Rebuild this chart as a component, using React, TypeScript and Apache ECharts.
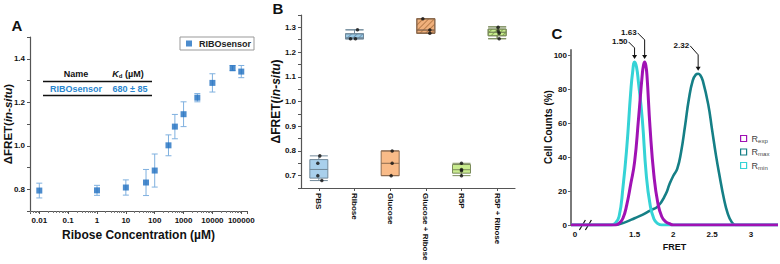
import { useEffect, useRef } from 'react';
import * as echarts from 'echarts';

const FONT = '"Liberation Sans", Arial, Helvetica, sans-serif';

// ---------- Panel A : dose response ----------
const riboseConc = [0.01, 1, 10, 50, 100, 300, 500, 1000, 3000, 10000, 50000, 100000];
const deltaFretMean = [0.794, 0.795, 0.808, 0.831, 0.886, 1.002, 1.088, 1.145, 1.221, 1.289, 1.357, 1.341];
const deltaFretErr = [0.034, 0.023, 0.035, 0.06, 0.076, 0.048, 0.056, 0.057, 0.019, 0.042, 0.012, 0.028];
const tableName = 'RIBOsensor';
const tableKd = '680 ± 85';

// ---------- Panel B : box plots ----------
const conditions = ['PBS', 'Ribose', 'Glucose', 'Glucose + Ribose', 'R5P', 'R5P + Ribose'];
// [min, Q1, median, Q3, max]
const boxStats = [
  [0.68, 0.69, 0.725, 0.765, 0.78],
  [1.254, 1.254, 1.257, 1.274, 1.29],
  [0.70, 0.70, 0.75, 0.80, 0.80],
  [1.276, 1.276, 1.289, 1.335, 1.335],
  [0.70, 0.71, 0.724, 0.745, 0.75],
  [1.254, 1.266, 1.28, 1.293, 1.302],
];
const replicates = [
  [0.78, 0.75, 0.70, 0.68],
  [1.29, 1.254, 1.254],
  [0.80, 0.75, 0.70],
  [1.335, 1.289, 1.276],
  [0.75, 0.725, 0.72, 0.70],
  [1.30, 1.285, 1.276, 1.254],
];

// ---------- Panel C : FRET histograms ----------
const rminFret = [0.68, 1.15, 1.2, 1.25, 1.3, 1.35, 1.4, 1.45, 1.475, 1.5, 1.525, 1.55, 1.6, 1.65, 1.7, 1.75, 1.8, 1.85, 1.9, 3.35];
const rminCounts = [0, 0, 0, 1, 5, 22, 46, 78, 90, 96, 93, 84, 62, 30, 12, 3.5, 0.8, 0, 0, 0];
const rexpFret = [0.68, 1.2, 1.25, 1.3, 1.35, 1.4, 1.45, 1.5, 1.55, 1.6, 1.615, 1.63, 1.645, 1.66, 1.7, 1.75, 1.8, 1.85, 1.9, 1.95, 2.0, 2.05, 3.35];
const rexpCounts = [0, 0, 0, 1, 4, 12, 24, 37, 62, 89, 94, 96, 94, 88, 57, 29, 13, 5, 2, 0.8, 0, 0, 0];
const rmaxFret = [0.68, 1.2, 1.25, 1.3, 1.4, 1.5, 1.6, 1.7, 1.8, 1.9, 1.95, 2.0, 2.05, 2.1, 2.15, 2.2, 2.25, 2.29, 2.32, 2.35, 2.38, 2.45, 2.5, 2.55, 2.6, 2.65, 2.7, 2.75, 2.8, 2.85, 3.35];
const rmaxCounts = [0, 0, 0, 0.5, 2, 4, 6, 8.5, 11, 18, 24, 29, 33, 43, 58, 74, 85, 88.5, 89, 88, 85, 71, 56, 41, 28, 16, 7, 2, 0, 0, 0];
const peakLabels = ['1.50', '1.63', '2.32'];
const peakFret = [1.5, 1.63, 2.32];
const peakCounts = [96, 96, 89];

// styling helpers
const BLUE = '#1f6fc0';
const JITTER = [[1, -1, -1, 3], [3, -4, 1], [2, 2, 1], [-3, 4, 4], [0, 0, 0, 0], [1, 1, 2, 2]];
const BOX_STYLE = [
  { color: '#a9d0ec', borderColor: '#71899a' },
  { color: '#9ccbe6', borderColor: '#71899a', hatch: 'rgba(70,110,150,0.55)' },
  { color: '#f9bb88', borderColor: '#8c6b50' },
  { color: '#f0b07c', borderColor: '#8c6b50', hatch: 'rgba(150,90,40,0.6)' },
  { color: '#c9ec8f', borderColor: '#7b8c5b' },
  { color: '#c9ec8f', borderColor: '#7b8c5b', hatch: 'rgba(90,130,40,0.6)' },
];
const ANNO_GEOM = [
  { kink: 14, dx: 6, dy: 20 },
  { kink: 22, dx: 7, dy: 29 },
  { kink: 19, dx: 8, dy: 28 },
];
const C_COLORS = { Rexp: '#a012b4', Rmax: '#157f86', Rmin: '#35d3d6' };

const tickLabel = { fontSize: 8, fontWeight: 'bold' as const, color: '#111', fontFamily: FONT };
const axisLineStyle = { color: '#555', width: 1.2 };

function logLabel(v: number) {
  const l = Math.log10(v);
  if (Math.abs(l - Math.round(l)) > 1e-6) return '';
  return v >= 1 ? String(Math.round(v)) : String(Number(v.toPrecision(3)));
}

function buildOption(): any {
  const errData = riboseConc.map((c, i) => [c, deltaFretMean[i] - deltaFretErr[i], deltaFretMean[i] + deltaFretErr[i]]);
  const boxData = boxStats.map((s, i) => {
    const st = BOX_STYLE[i];
    const itemStyle: any = { color: st.color, borderColor: st.borderColor, borderWidth: 1 };
    if (st.hatch) {
      itemStyle.decal = {
        symbol: 'rect', symbolSize: 1, dashArrayX: [1, 0], dashArrayY: [1, 2.5],
        rotation: -Math.PI / 4, color: st.hatch,
      };
    }
    return { value: s, itemStyle };
  });
  const pointData: any[] = [];
  replicates.forEach((vals, i) => vals.forEach((v, j) => pointData.push({ value: [i, v], symbolOffset: [JITTER[i][j] || 0, 0] })));

  const nameStyle = (fs: number) => ({
    fontSize: fs, fontWeight: 'bold', color: '#111', fontFamily: FONT,
    rich: { i: { fontSize: fs, fontWeight: 'bold', fontStyle: 'italic', color: '#111', fontFamily: FONT } },
  });
  const smoothLine = { type: 'line', xAxisIndex: 2, yAxisIndex: 2, symbol: 'none', smooth: 0.5 };

  return {
    animation: false,
    backgroundColor: '#fff',
    textStyle: { fontFamily: FONT },
    grid: [
      { left: 30, top: 37, width: 217, height: 174, outerBoundsMode: 'none' },
      { left: 301, top: 15, width: 214, height: 173, outerBoundsMode: 'none' },
      { left: 571, top: 50, width: 207, height: 175, outerBoundsMode: 'none' },
    ],
    legend: [
      {
        data: ['RIBOsensor'], left: 180, top: 37, icon: 'rect', itemWidth: 6, itemHeight: 6,
        borderColor: '#999', borderWidth: 1, padding: [2, 3, 2, 6], itemGap: 4,
        textStyle: { fontSize: 9, fontWeight: 'bold', color: '#222', fontFamily: FONT, padding: [0, 0, 0, 2] },
      },
      {
        orient: 'vertical', left: 740, top: 134, icon: 'rect', itemWidth: 6, itemHeight: 6, itemGap: 4, padding: 0,
        lineStyle: { width: 0, opacity: 0 },
        data: (['Rexp', 'Rmax', 'Rmin'] as const).map((n) => ({
          name: n, icon: 'rect',
          itemStyle: { color: '#fff', borderColor: C_COLORS[n], borderWidth: 1.2 },
        })),
        formatter: (n: string) => `{r|R}{s|${n.slice(1)}}`,
        textStyle: {
          color: '#444', fontFamily: FONT, fontSize: 9,
          rich: {
            r: { fontSize: 9, color: '#444', fontFamily: FONT },
            s: { fontSize: 6, color: '#444', fontFamily: FONT, padding: [4, 0, 0, 0] },
          },
        },
      },
    ],
    xAxis: [
      {
        gridIndex: 0, type: 'log', logBase: 10, min: 0.00476, max: 158000,
        axisLine: { show: true, lineStyle: axisLineStyle },
        axisTick: { show: true, length: 3, lineStyle: { color: '#555' } },
        minorTick: { show: true, splitNumber: 9, length: 2, lineStyle: { color: '#777' } },
        splitLine: { show: false },
        axisLabel: { ...tickLabel, margin: 5, formatter: logLabel, showMinLabel: true, showMaxLabel: true },
        name: 'Ribose Concentration (µM)', nameLocation: 'middle', nameGap: 18,
        nameTextStyle: { fontSize: 12, fontWeight: 'bold', color: '#111', fontFamily: FONT },
      },
      {
        gridIndex: 1, type: 'category', data: conditions,
        axisLine: { show: true, lineStyle: axisLineStyle },
        axisTick: { show: true, alignWithLabel: true, length: 3, lineStyle: { color: '#555' } },
        axisLabel: { ...tickLabel, rotate: -90, margin: 5, interval: 0 },
        splitLine: { show: false },
      },
      {
        gridIndex: 2, type: 'value', min: 0.68, max: 3.35,
        axisLine: { show: false },
        axisTick: { show: false },
        splitLine: { show: false },
        axisLabel: {
          ...tickLabel, margin: 5, customValues: [0.73, 1.5, 2, 2.5, 3],
          formatter: (v: number) => (v < 1 ? '0' : String(v)),
        },
        name: 'FRET', nameLocation: 'middle', nameGap: 13,
        nameTextStyle: { fontSize: 9, fontWeight: 'bold', color: '#111', fontFamily: FONT },
      },
    ],
    yAxis: [
      {
        gridIndex: 0, type: 'value', min: 0.7, max: 1.5, interval: 0.1,
        axisLine: { show: true, lineStyle: axisLineStyle },
        axisTick: { show: true, length: 3, lineStyle: { color: '#555' } },
        splitLine: { show: false },
        axisLabel: { ...tickLabel, margin: 5, formatter: (v: number) => (Math.round(v * 10) % 2 === 0 ? v.toFixed(1) : '') },
        name: 'ΔFRET({i|in-situ})', nameLocation: 'middle', nameRotate: 90, nameGap: 16.5,
        nameMoveOverlap: false, nameTextStyle: nameStyle(11.5),
      },
      {
        gridIndex: 1, type: 'value', min: 0.65, max: 1.35, interval: 0.05,
        axisLine: { show: true, lineStyle: axisLineStyle },
        axisTick: { show: true, length: 3, lineStyle: { color: '#555' } },
        splitLine: { show: false },
        axisLabel: { ...tickLabel, margin: 5, formatter: (v: number) => (Math.round(v * 100) % 10 === 0 ? v.toFixed(1) : '') },
        name: 'ΔFRET({i|in-situ})', nameLocation: 'middle', nameRotate: 90, nameGap: 19,
        nameMoveOverlap: false, nameTextStyle: nameStyle(12),
      },
      {
        gridIndex: 2, type: 'value', min: 0, max: 103,
        axisLine: { show: true, lineStyle: { color: '#7a7a7a', width: 2 } },
        axisTick: { show: true, length: 3, customValues: [0, 20, 40, 60, 80, 100], lineStyle: { color: '#666' } },
        splitLine: { show: false },
        axisLabel: { ...tickLabel, margin: 4, customValues: [0, 20, 40, 60, 80, 100] },
      },
    ],
    series: [
      {
        type: 'custom', name: 'err', xAxisIndex: 0, yAxisIndex: 0, data: errData,
        encode: { x: 0, y: [1, 2] }, z: 2, silent: true,
        renderItem: (_p: any, api: any) => {
          const top = api.coord([api.value(0), api.value(2)]);
          const bot = api.coord([api.value(0), api.value(1)]);
          const w = 3;
          const st = { stroke: '#7fb0df', lineWidth: 1 };
          return {
            type: 'group',
            children: [
              { type: 'line', shape: { x1: top[0], y1: top[1], x2: bot[0], y2: bot[1] }, style: st },
              { type: 'line', shape: { x1: top[0] - w, y1: top[1], x2: top[0] + w, y2: top[1] }, style: st },
              { type: 'line', shape: { x1: bot[0] - w, y1: bot[1], x2: bot[0] + w, y2: bot[1] }, style: st },
            ],
          };
        },
      },
      {
        type: 'scatter', name: 'RIBOsensor', xAxisIndex: 0, yAxisIndex: 0, z: 3,
        data: riboseConc.map((c, i) => [c, deltaFretMean[i]]),
        symbol: 'rect', symbolSize: 6, itemStyle: { color: BLUE },
      },
      {
        type: 'boxplot', name: 'box', xAxisIndex: 1, yAxisIndex: 1, data: boxData,
        boxWidth: [18, 18], z: 2,
      },
      {
        type: 'scatter', name: 'points', xAxisIndex: 1, yAxisIndex: 1, data: pointData, z: 4,
        symbol: 'circle', symbolSize: 3.5, itemStyle: { color: '#111' },
      },
      {
        ...smoothLine, name: 'Rmax',
        data: rmaxFret.map((x, i) => [x, rmaxCounts[i]]), lineStyle: { color: C_COLORS.Rmax, width: 2.6 },
        itemStyle: { color: C_COLORS.Rmax },
      },
      {
        ...smoothLine, name: 'Rmin',
        data: rminFret.map((x, i) => [x, rminCounts[i]]), lineStyle: { color: C_COLORS.Rmin, width: 3 },
        itemStyle: { color: C_COLORS.Rmin },
      },
      {
        ...smoothLine, name: 'Rexp',
        data: rexpFret.map((x, i) => [x, rexpCounts[i]]), lineStyle: { color: C_COLORS.Rexp, width: 3 },
        itemStyle: { color: C_COLORS.Rexp },
      },
    ],
  };
}

function buildGraphics(chart: echarts.ECharts): any[] {
  const txt = (x: number, y: number, text: string, extra: any = {}) => ({
    type: 'text', x, y, silent: true,
    style: { text, fontFamily: FONT, fontSize: 9, fontWeight: 'bold', fill: '#111', align: 'center', verticalAlign: 'middle', ...extra },
  });
  const g: any[] = [
    txt(17, 25, 'A', { fontSize: 15 }),
    txt(278, 8, 'B', { fontSize: 15 }),
    txt(557, 33, 'C', { fontSize: 15 }),
    // Kd table
    txt(76, 74, 'Name'),
    txt(128, 74, '{k|K}{d|d}{n| (µM)}', {
      rich: {
        k: { fontSize: 9, fontWeight: 'bold', fontStyle: 'italic', fontFamily: FONT, fill: '#111' },
        d: { fontSize: 6, fontWeight: 'bold', fontFamily: FONT, fill: '#111', padding: [4, 0, 0, 0] },
        n: { fontSize: 9, fontWeight: 'bold', fontFamily: FONT, fill: '#111' },
      },
    }),
    { type: 'line', silent: true, shape: { x1: 43, y1: 81.5, x2: 152, y2: 81.5 }, style: { stroke: '#111', lineWidth: 1.4 } },
    txt(76, 88.5, tableName, { fill: '#2a86cf' }),
    txt(130, 88.5, tableKd, { fill: '#2a86cf' }),
    { type: 'line', silent: true, shape: { x1: 43, y1: 95.5, x2: 152, y2: 95.5 }, style: { stroke: '#111', lineWidth: 1.4 } },
    // C y-axis name
    { type: 'text', x: 548, y: 127, rotation: Math.PI / 2, silent: true,
      style: { text: 'Cell Counts (%)', fontFamily: FONT, fontSize: 10, fontWeight: 'bold', fill: '#111', align: 'center', verticalAlign: 'middle' } },
  ];
  // axis break marks
  const b = chart.convertToPixel({ gridIndex: 2 } as any, [0.84, 0]) as number[];
  g.push({ type: 'rect', silent: true, shape: { x: b[0] - 2, y: b[1] - 3, width: 7, height: 6 }, style: { fill: '#fff' } });
  g.push({ type: 'line', silent: true, shape: { x1: b[0] - 4, y1: b[1] + 5, x2: b[0] + 2, y2: b[1] - 5 }, style: { stroke: '#111', lineWidth: 1.2 } });
  g.push({ type: 'line', silent: true, shape: { x1: b[0] + 2, y1: b[1] + 5, x2: b[0] + 8, y2: b[1] - 5 }, style: { stroke: '#111', lineWidth: 1.2 } });
  // peak annotations
  peakFret.forEach((fx, i) => {
    const p = chart.convertToPixel({ gridIndex: 2 } as any, [fx, peakCounts[i]]) as number[];
    const geo = ANNO_GEOM[i];
    const x = p[0];
    const tipY = p[1] - 3;
    const sx = x - geo.dx;
    const sy = p[1] - geo.dy;
    g.push({ type: 'polyline', silent: true, shape: { points: [[sx, sy], [x, p[1] - geo.kink], [x, tipY - 3]] }, style: { stroke: '#111', lineWidth: 1, fill: null } });
    g.push({ type: 'polygon', silent: true, shape: { points: [[x - 2.5, tipY - 4], [x + 2.5, tipY - 4], [x, tipY]] }, style: { fill: '#111' } });
    g.push(txt(sx - 1, sy, peakLabels[i], { fontSize: 8, align: 'right' }));
  });
  return g;
}

export default function App() {
  const ref = useRef<HTMLDivElement>(null);
  useEffect(() => {
    if (!ref.current) return;
    const chart = echarts.init(ref.current, null, { renderer: 'svg' });
    chart.setOption(buildOption());
    chart.setOption({ graphic: buildGraphics(chart) });
    return () => chart.dispose();
  }, []);
  return <div ref={ref} style={{ position: 'fixed', left: 0, top: 0, width: 780, height: 264, background: '#fff' }} />;
}
